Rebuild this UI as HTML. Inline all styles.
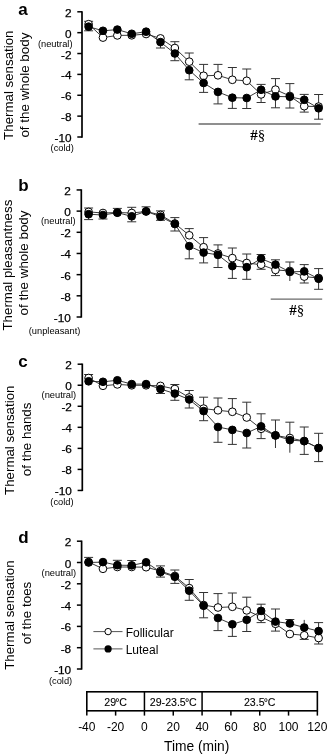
<!DOCTYPE html>
<html><head><meta charset="utf-8"><style>
html,body{margin:0;padding:0;background:#fff;}
svg{display:block;filter:grayscale(1);}
.tk{stroke:#000;stroke-width:0.25px;}
.bl{stroke:#000;stroke-width:0.1px;}
</style></head><body>
<svg width="332" height="754" viewBox="0 0 332 754">
<rect width="332" height="754" fill="#fff"/>
<text x="18.2" y="15" font-family='"Liberation Sans", sans-serif' font-weight="bold" font-size="17">a</text>
<text transform="translate(13.4,85.2) rotate(-90)" text-anchor="middle" font-family='"Liberation Sans", sans-serif' font-size="13.3">Thermal sensation</text>
<text transform="translate(28.5,85.1) rotate(-90)" text-anchor="middle" font-family='"Liberation Sans", sans-serif' font-size="13.4">of the whole body</text>
<line x1="82.0" y1="11.15" x2="82.0" y2="137.65" stroke="#000" stroke-width="1.7"/>
<line x1="77.3" y1="11.8" x2="82.0" y2="11.8" stroke="#000" stroke-width="1.5"/>
<text class="tk" x="71.6" y="16.8" text-anchor="end" font-family='"Liberation Sans", sans-serif' font-size="11.8">2</text>
<line x1="77.3" y1="32.67" x2="82.0" y2="32.67" stroke="#000" stroke-width="1.5"/>
<text class="tk" x="71.6" y="37.67" text-anchor="end" font-family='"Liberation Sans", sans-serif' font-size="11.8">0</text>
<line x1="77.3" y1="53.53" x2="82.0" y2="53.53" stroke="#000" stroke-width="1.5"/>
<text class="tk" x="71.6" y="58.53" text-anchor="end" font-family='"Liberation Sans", sans-serif' font-size="11.8">-2</text>
<line x1="77.3" y1="74.4" x2="82.0" y2="74.4" stroke="#000" stroke-width="1.5"/>
<text class="tk" x="71.6" y="79.4" text-anchor="end" font-family='"Liberation Sans", sans-serif' font-size="11.8">-4</text>
<line x1="77.3" y1="95.27" x2="82.0" y2="95.27" stroke="#000" stroke-width="1.5"/>
<text class="tk" x="71.6" y="100.27" text-anchor="end" font-family='"Liberation Sans", sans-serif' font-size="11.8">-6</text>
<line x1="77.3" y1="116.13" x2="82.0" y2="116.13" stroke="#000" stroke-width="1.5"/>
<text class="tk" x="71.6" y="121.13" text-anchor="end" font-family='"Liberation Sans", sans-serif' font-size="11.8">-8</text>
<line x1="77.3" y1="137" x2="82.0" y2="137" stroke="#000" stroke-width="1.5"/>
<text class="tk" x="71.6" y="142" text-anchor="end" font-family='"Liberation Sans", sans-serif' font-size="11.8">-10</text>
<text x="72.5" y="47" text-anchor="end" font-family='"Liberation Sans", sans-serif' font-size="9.3">(neutral)</text>
<text x="73.8" y="151.4" text-anchor="end" font-family='"Liberation Sans", sans-serif' font-size="9.3">(cold)</text>
<polyline points="88.6,24.2 102.97,37.6 117.35,35.4 131.72,35.3 146.1,34 160.47,38.4 174.85,48 189.22,61.7 203.6,75.8 217.97,75.3 232.35,79.8 246.72,80.8 261.1,94.4 275.48,89.6 289.85,96 304.23,106.2 318.6,106.6" fill="none" stroke="#222" stroke-width="0.9"/>
<polyline points="88.6,26.7 102.97,30.8 117.35,29.6 131.72,33.8 146.1,31.7 160.47,42.1 174.85,53.5 189.22,70.2 203.6,83 217.97,91.9 232.35,97.7 246.72,98 261.1,89.8 275.48,96.4 289.85,96.8 304.23,99.8 318.6,108.3" fill="none" stroke="#222" stroke-width="0.9"/>
<line x1="88.6" y1="24.2" x2="88.6" y2="21.3" stroke="#333" stroke-width="1"/>
<line x1="84.1" y1="21.3" x2="93.1" y2="21.3" stroke="#333" stroke-width="1"/>
<line x1="88.6" y1="26.7" x2="88.6" y2="30.8" stroke="#333" stroke-width="1"/>
<line x1="84.1" y1="30.8" x2="93.1" y2="30.8" stroke="#333" stroke-width="1"/>
<line x1="160.47" y1="42.1" x2="160.47" y2="48" stroke="#333" stroke-width="1"/>
<line x1="155.97" y1="48" x2="164.97" y2="48" stroke="#333" stroke-width="1"/>
<line x1="174.85" y1="48" x2="174.85" y2="41.7" stroke="#333" stroke-width="1"/>
<line x1="170.35" y1="41.7" x2="179.35" y2="41.7" stroke="#333" stroke-width="1"/>
<line x1="174.85" y1="53.5" x2="174.85" y2="60.7" stroke="#333" stroke-width="1"/>
<line x1="170.35" y1="60.7" x2="179.35" y2="60.7" stroke="#333" stroke-width="1"/>
<line x1="189.22" y1="61.7" x2="189.22" y2="53" stroke="#333" stroke-width="1"/>
<line x1="184.72" y1="53" x2="193.72" y2="53" stroke="#333" stroke-width="1"/>
<line x1="189.22" y1="70.2" x2="189.22" y2="79.8" stroke="#333" stroke-width="1"/>
<line x1="184.72" y1="79.8" x2="193.72" y2="79.8" stroke="#333" stroke-width="1"/>
<line x1="203.6" y1="75.8" x2="203.6" y2="64.4" stroke="#333" stroke-width="1"/>
<line x1="199.1" y1="64.4" x2="208.1" y2="64.4" stroke="#333" stroke-width="1"/>
<line x1="203.6" y1="83" x2="203.6" y2="92.4" stroke="#333" stroke-width="1"/>
<line x1="199.1" y1="92.4" x2="208.1" y2="92.4" stroke="#333" stroke-width="1"/>
<line x1="217.97" y1="75.3" x2="217.97" y2="64.4" stroke="#333" stroke-width="1"/>
<line x1="213.47" y1="64.4" x2="222.47" y2="64.4" stroke="#333" stroke-width="1"/>
<line x1="217.97" y1="91.9" x2="217.97" y2="103.9" stroke="#333" stroke-width="1"/>
<line x1="213.47" y1="103.9" x2="222.47" y2="103.9" stroke="#333" stroke-width="1"/>
<line x1="232.35" y1="79.8" x2="232.35" y2="67.5" stroke="#333" stroke-width="1"/>
<line x1="227.85" y1="67.5" x2="236.85" y2="67.5" stroke="#333" stroke-width="1"/>
<line x1="232.35" y1="97.7" x2="232.35" y2="108.4" stroke="#333" stroke-width="1"/>
<line x1="227.85" y1="108.4" x2="236.85" y2="108.4" stroke="#333" stroke-width="1"/>
<line x1="246.72" y1="80.8" x2="246.72" y2="69" stroke="#333" stroke-width="1"/>
<line x1="242.22" y1="69" x2="251.22" y2="69" stroke="#333" stroke-width="1"/>
<line x1="246.72" y1="98" x2="246.72" y2="108.5" stroke="#333" stroke-width="1"/>
<line x1="242.22" y1="108.5" x2="251.22" y2="108.5" stroke="#333" stroke-width="1"/>
<line x1="261.1" y1="89.8" x2="261.1" y2="84.4" stroke="#333" stroke-width="1"/>
<line x1="256.6" y1="84.4" x2="265.6" y2="84.4" stroke="#333" stroke-width="1"/>
<line x1="261.1" y1="94.4" x2="261.1" y2="102.5" stroke="#333" stroke-width="1"/>
<line x1="256.6" y1="102.5" x2="265.6" y2="102.5" stroke="#333" stroke-width="1"/>
<line x1="275.48" y1="89.6" x2="275.48" y2="78.6" stroke="#333" stroke-width="1"/>
<line x1="270.98" y1="78.6" x2="279.98" y2="78.6" stroke="#333" stroke-width="1"/>
<line x1="275.48" y1="96.4" x2="275.48" y2="107.8" stroke="#333" stroke-width="1"/>
<line x1="270.98" y1="107.8" x2="279.98" y2="107.8" stroke="#333" stroke-width="1"/>
<line x1="289.85" y1="96" x2="289.85" y2="83.6" stroke="#333" stroke-width="1"/>
<line x1="285.35" y1="83.6" x2="294.35" y2="83.6" stroke="#333" stroke-width="1"/>
<line x1="289.85" y1="96.8" x2="289.85" y2="108" stroke="#333" stroke-width="1"/>
<line x1="285.35" y1="108" x2="294.35" y2="108" stroke="#333" stroke-width="1"/>
<line x1="304.23" y1="99.8" x2="304.23" y2="94.4" stroke="#333" stroke-width="1"/>
<line x1="299.73" y1="94.4" x2="308.73" y2="94.4" stroke="#333" stroke-width="1"/>
<line x1="304.23" y1="106.2" x2="304.23" y2="112.1" stroke="#333" stroke-width="1"/>
<line x1="299.73" y1="112.1" x2="308.73" y2="112.1" stroke="#333" stroke-width="1"/>
<line x1="318.6" y1="106.6" x2="318.6" y2="94.5" stroke="#333" stroke-width="1"/>
<line x1="314.1" y1="94.5" x2="323.1" y2="94.5" stroke="#333" stroke-width="1"/>
<line x1="318.6" y1="108.3" x2="318.6" y2="119.2" stroke="#333" stroke-width="1"/>
<line x1="314.1" y1="119.2" x2="323.1" y2="119.2" stroke="#333" stroke-width="1"/>
<circle cx="88.6" cy="24.2" r="3.85" fill="#fff" stroke="#000" stroke-width="1"/>
<circle cx="102.97" cy="37.6" r="3.85" fill="#fff" stroke="#000" stroke-width="1"/>
<circle cx="117.35" cy="35.4" r="3.85" fill="#fff" stroke="#000" stroke-width="1"/>
<circle cx="131.72" cy="35.3" r="3.85" fill="#fff" stroke="#000" stroke-width="1"/>
<circle cx="146.1" cy="34" r="3.85" fill="#fff" stroke="#000" stroke-width="1"/>
<circle cx="160.47" cy="38.4" r="3.85" fill="#fff" stroke="#000" stroke-width="1"/>
<circle cx="174.85" cy="48" r="3.85" fill="#fff" stroke="#000" stroke-width="1"/>
<circle cx="189.22" cy="61.7" r="3.85" fill="#fff" stroke="#000" stroke-width="1"/>
<circle cx="203.6" cy="75.8" r="3.85" fill="#fff" stroke="#000" stroke-width="1"/>
<circle cx="217.97" cy="75.3" r="3.85" fill="#fff" stroke="#000" stroke-width="1"/>
<circle cx="232.35" cy="79.8" r="3.85" fill="#fff" stroke="#000" stroke-width="1"/>
<circle cx="246.72" cy="80.8" r="3.85" fill="#fff" stroke="#000" stroke-width="1"/>
<circle cx="261.1" cy="94.4" r="3.85" fill="#fff" stroke="#000" stroke-width="1"/>
<circle cx="275.48" cy="89.6" r="3.85" fill="#fff" stroke="#000" stroke-width="1"/>
<circle cx="289.85" cy="96" r="3.85" fill="#fff" stroke="#000" stroke-width="1"/>
<circle cx="304.23" cy="106.2" r="3.85" fill="#fff" stroke="#000" stroke-width="1"/>
<circle cx="318.6" cy="106.6" r="3.85" fill="#fff" stroke="#000" stroke-width="1"/>
<circle cx="88.6" cy="26.7" r="3.85" fill="#000" stroke="#000" stroke-width="1"/>
<circle cx="102.97" cy="30.8" r="3.85" fill="#000" stroke="#000" stroke-width="1"/>
<circle cx="117.35" cy="29.6" r="3.85" fill="#000" stroke="#000" stroke-width="1"/>
<circle cx="131.72" cy="33.8" r="3.85" fill="#000" stroke="#000" stroke-width="1"/>
<circle cx="146.1" cy="31.7" r="3.85" fill="#000" stroke="#000" stroke-width="1"/>
<circle cx="160.47" cy="42.1" r="3.85" fill="#000" stroke="#000" stroke-width="1"/>
<circle cx="174.85" cy="53.5" r="3.85" fill="#000" stroke="#000" stroke-width="1"/>
<circle cx="189.22" cy="70.2" r="3.85" fill="#000" stroke="#000" stroke-width="1"/>
<circle cx="203.6" cy="83" r="3.85" fill="#000" stroke="#000" stroke-width="1"/>
<circle cx="217.97" cy="91.9" r="3.85" fill="#000" stroke="#000" stroke-width="1"/>
<circle cx="232.35" cy="97.7" r="3.85" fill="#000" stroke="#000" stroke-width="1"/>
<circle cx="246.72" cy="98" r="3.85" fill="#000" stroke="#000" stroke-width="1"/>
<circle cx="261.1" cy="89.8" r="3.85" fill="#000" stroke="#000" stroke-width="1"/>
<circle cx="275.48" cy="96.4" r="3.85" fill="#000" stroke="#000" stroke-width="1"/>
<circle cx="289.85" cy="96.8" r="3.85" fill="#000" stroke="#000" stroke-width="1"/>
<circle cx="304.23" cy="99.8" r="3.85" fill="#000" stroke="#000" stroke-width="1"/>
<circle cx="318.6" cy="108.3" r="3.85" fill="#000" stroke="#000" stroke-width="1"/>
<text x="18.2" y="190.8" font-family='"Liberation Sans", sans-serif' font-weight="bold" font-size="17">b</text>
<text transform="translate(12,265.1) rotate(-90)" text-anchor="middle" font-family='"Liberation Sans", sans-serif' font-size="13.3">Thermal pleasantness</text>
<text transform="translate(27.7,263) rotate(-90)" text-anchor="middle" font-family='"Liberation Sans", sans-serif' font-size="13.4">of the whole body</text>
<line x1="81.3" y1="189.3" x2="81.3" y2="317.65" stroke="#000" stroke-width="1.7"/>
<line x1="76.6" y1="189.95" x2="81.3" y2="189.95" stroke="#000" stroke-width="1.5"/>
<text class="tk" x="70.9" y="194.95" text-anchor="end" font-family='"Liberation Sans", sans-serif' font-size="11.8">2</text>
<line x1="76.6" y1="211.12" x2="81.3" y2="211.12" stroke="#000" stroke-width="1.5"/>
<text class="tk" x="70.9" y="216.12" text-anchor="end" font-family='"Liberation Sans", sans-serif' font-size="11.8">0</text>
<line x1="76.6" y1="232.3" x2="81.3" y2="232.3" stroke="#000" stroke-width="1.5"/>
<text class="tk" x="70.9" y="237.3" text-anchor="end" font-family='"Liberation Sans", sans-serif' font-size="11.8">-2</text>
<line x1="76.6" y1="253.47" x2="81.3" y2="253.47" stroke="#000" stroke-width="1.5"/>
<text class="tk" x="70.9" y="258.48" text-anchor="end" font-family='"Liberation Sans", sans-serif' font-size="11.8">-4</text>
<line x1="76.6" y1="274.65" x2="81.3" y2="274.65" stroke="#000" stroke-width="1.5"/>
<text class="tk" x="70.9" y="279.65" text-anchor="end" font-family='"Liberation Sans", sans-serif' font-size="11.8">-6</text>
<line x1="76.6" y1="295.82" x2="81.3" y2="295.82" stroke="#000" stroke-width="1.5"/>
<text class="tk" x="70.9" y="300.82" text-anchor="end" font-family='"Liberation Sans", sans-serif' font-size="11.8">-8</text>
<line x1="76.6" y1="317" x2="81.3" y2="317" stroke="#000" stroke-width="1.5"/>
<text class="tk" x="70.9" y="322" text-anchor="end" font-family='"Liberation Sans", sans-serif' font-size="11.8">-10</text>
<text x="75.6" y="224.05" text-anchor="end" font-family='"Liberation Sans", sans-serif' font-size="9.3">(neutral)</text>
<text x="80.4" y="333.7" text-anchor="end" font-family='"Liberation Sans", sans-serif' font-size="9.3">(unpleasant)</text>
<polyline points="88.6,211.9 102.97,213 117.35,212.5 131.72,213 146.1,211.5 160.47,214.9 174.85,223.5 189.22,235.3 203.6,247.2 217.97,253.5 232.35,258.1 246.72,263 261.1,264.7 275.48,269.9 289.85,271 304.23,276.6 318.6,278" fill="none" stroke="#222" stroke-width="0.9"/>
<polyline points="88.6,214.2 102.97,215 117.35,212.7 131.72,216.3 146.1,211.3 160.47,216.7 174.85,224 189.22,246.1 203.6,252.6 217.97,254.9 232.35,266.1 246.72,267.2 261.1,258.6 275.48,264.6 289.85,271.9 304.23,271.4 318.6,278.8" fill="none" stroke="#222" stroke-width="0.9"/>
<line x1="88.6" y1="211.9" x2="88.6" y2="208" stroke="#333" stroke-width="1"/>
<line x1="84.1" y1="208" x2="93.1" y2="208" stroke="#333" stroke-width="1"/>
<line x1="88.6" y1="214.2" x2="88.6" y2="219.6" stroke="#333" stroke-width="1"/>
<line x1="84.1" y1="219.6" x2="93.1" y2="219.6" stroke="#333" stroke-width="1"/>
<line x1="102.97" y1="215" x2="102.97" y2="219" stroke="#333" stroke-width="1"/>
<line x1="98.47" y1="219" x2="107.47" y2="219" stroke="#333" stroke-width="1"/>
<line x1="117.35" y1="212.5" x2="117.35" y2="208.4" stroke="#333" stroke-width="1"/>
<line x1="112.85" y1="208.4" x2="121.85" y2="208.4" stroke="#333" stroke-width="1"/>
<line x1="131.72" y1="213" x2="131.72" y2="207.3" stroke="#333" stroke-width="1"/>
<line x1="127.22" y1="207.3" x2="136.22" y2="207.3" stroke="#333" stroke-width="1"/>
<line x1="131.72" y1="216.3" x2="131.72" y2="221.8" stroke="#333" stroke-width="1"/>
<line x1="127.22" y1="221.8" x2="136.22" y2="221.8" stroke="#333" stroke-width="1"/>
<line x1="146.1" y1="211.3" x2="146.1" y2="206.8" stroke="#333" stroke-width="1"/>
<line x1="141.6" y1="206.8" x2="150.6" y2="206.8" stroke="#333" stroke-width="1"/>
<line x1="160.47" y1="214.9" x2="160.47" y2="210.9" stroke="#333" stroke-width="1"/>
<line x1="155.97" y1="210.9" x2="164.97" y2="210.9" stroke="#333" stroke-width="1"/>
<line x1="160.47" y1="216.7" x2="160.47" y2="220.3" stroke="#333" stroke-width="1"/>
<line x1="155.97" y1="220.3" x2="164.97" y2="220.3" stroke="#333" stroke-width="1"/>
<line x1="174.85" y1="223.5" x2="174.85" y2="217.6" stroke="#333" stroke-width="1"/>
<line x1="170.35" y1="217.6" x2="179.35" y2="217.6" stroke="#333" stroke-width="1"/>
<line x1="174.85" y1="224" x2="174.85" y2="231" stroke="#333" stroke-width="1"/>
<line x1="170.35" y1="231" x2="179.35" y2="231" stroke="#333" stroke-width="1"/>
<line x1="189.22" y1="235.3" x2="189.22" y2="228.6" stroke="#333" stroke-width="1"/>
<line x1="184.72" y1="228.6" x2="193.72" y2="228.6" stroke="#333" stroke-width="1"/>
<line x1="189.22" y1="246.1" x2="189.22" y2="258.8" stroke="#333" stroke-width="1"/>
<line x1="184.72" y1="258.8" x2="193.72" y2="258.8" stroke="#333" stroke-width="1"/>
<line x1="203.6" y1="247.2" x2="203.6" y2="237.6" stroke="#333" stroke-width="1"/>
<line x1="199.1" y1="237.6" x2="208.1" y2="237.6" stroke="#333" stroke-width="1"/>
<line x1="203.6" y1="252.6" x2="203.6" y2="262.9" stroke="#333" stroke-width="1"/>
<line x1="199.1" y1="262.9" x2="208.1" y2="262.9" stroke="#333" stroke-width="1"/>
<line x1="217.97" y1="253.5" x2="217.97" y2="244.9" stroke="#333" stroke-width="1"/>
<line x1="213.47" y1="244.9" x2="222.47" y2="244.9" stroke="#333" stroke-width="1"/>
<line x1="217.97" y1="254.9" x2="217.97" y2="267.5" stroke="#333" stroke-width="1"/>
<line x1="213.47" y1="267.5" x2="222.47" y2="267.5" stroke="#333" stroke-width="1"/>
<line x1="232.35" y1="258.1" x2="232.35" y2="248" stroke="#333" stroke-width="1"/>
<line x1="227.85" y1="248" x2="236.85" y2="248" stroke="#333" stroke-width="1"/>
<line x1="232.35" y1="266.1" x2="232.35" y2="278.4" stroke="#333" stroke-width="1"/>
<line x1="227.85" y1="278.4" x2="236.85" y2="278.4" stroke="#333" stroke-width="1"/>
<line x1="246.72" y1="263" x2="246.72" y2="254" stroke="#333" stroke-width="1"/>
<line x1="242.22" y1="254" x2="251.22" y2="254" stroke="#333" stroke-width="1"/>
<line x1="246.72" y1="267.2" x2="246.72" y2="279.3" stroke="#333" stroke-width="1"/>
<line x1="242.22" y1="279.3" x2="251.22" y2="279.3" stroke="#333" stroke-width="1"/>
<line x1="261.1" y1="258.6" x2="261.1" y2="254.5" stroke="#333" stroke-width="1"/>
<line x1="256.6" y1="254.5" x2="265.6" y2="254.5" stroke="#333" stroke-width="1"/>
<line x1="261.1" y1="264.7" x2="261.1" y2="269.3" stroke="#333" stroke-width="1"/>
<line x1="256.6" y1="269.3" x2="265.6" y2="269.3" stroke="#333" stroke-width="1"/>
<line x1="275.48" y1="264.6" x2="275.48" y2="259.8" stroke="#333" stroke-width="1"/>
<line x1="270.98" y1="259.8" x2="279.98" y2="259.8" stroke="#333" stroke-width="1"/>
<line x1="275.48" y1="269.9" x2="275.48" y2="275.6" stroke="#333" stroke-width="1"/>
<line x1="270.98" y1="275.6" x2="279.98" y2="275.6" stroke="#333" stroke-width="1"/>
<line x1="289.85" y1="271" x2="289.85" y2="262" stroke="#333" stroke-width="1"/>
<line x1="285.35" y1="262" x2="294.35" y2="262" stroke="#333" stroke-width="1"/>
<line x1="289.85" y1="271.9" x2="289.85" y2="281" stroke="#333" stroke-width="1"/>
<line x1="304.23" y1="271.4" x2="304.23" y2="264.6" stroke="#333" stroke-width="1"/>
<line x1="299.73" y1="264.6" x2="308.73" y2="264.6" stroke="#333" stroke-width="1"/>
<line x1="304.23" y1="276.6" x2="304.23" y2="283" stroke="#333" stroke-width="1"/>
<line x1="299.73" y1="283" x2="308.73" y2="283" stroke="#333" stroke-width="1"/>
<line x1="318.6" y1="278" x2="318.6" y2="268.6" stroke="#333" stroke-width="1"/>
<line x1="314.1" y1="268.6" x2="323.1" y2="268.6" stroke="#333" stroke-width="1"/>
<line x1="318.6" y1="278.8" x2="318.6" y2="289.3" stroke="#333" stroke-width="1"/>
<line x1="314.1" y1="289.3" x2="323.1" y2="289.3" stroke="#333" stroke-width="1"/>
<circle cx="88.6" cy="211.9" r="3.85" fill="#fff" stroke="#000" stroke-width="1"/>
<circle cx="102.97" cy="213" r="3.85" fill="#fff" stroke="#000" stroke-width="1"/>
<circle cx="117.35" cy="212.5" r="3.85" fill="#fff" stroke="#000" stroke-width="1"/>
<circle cx="131.72" cy="213" r="3.85" fill="#fff" stroke="#000" stroke-width="1"/>
<circle cx="146.1" cy="211.5" r="3.85" fill="#fff" stroke="#000" stroke-width="1"/>
<circle cx="160.47" cy="214.9" r="3.85" fill="#fff" stroke="#000" stroke-width="1"/>
<circle cx="174.85" cy="223.5" r="3.85" fill="#fff" stroke="#000" stroke-width="1"/>
<circle cx="189.22" cy="235.3" r="3.85" fill="#fff" stroke="#000" stroke-width="1"/>
<circle cx="203.6" cy="247.2" r="3.85" fill="#fff" stroke="#000" stroke-width="1"/>
<circle cx="217.97" cy="253.5" r="3.85" fill="#fff" stroke="#000" stroke-width="1"/>
<circle cx="232.35" cy="258.1" r="3.85" fill="#fff" stroke="#000" stroke-width="1"/>
<circle cx="246.72" cy="263" r="3.85" fill="#fff" stroke="#000" stroke-width="1"/>
<circle cx="261.1" cy="264.7" r="3.85" fill="#fff" stroke="#000" stroke-width="1"/>
<circle cx="275.48" cy="269.9" r="3.85" fill="#fff" stroke="#000" stroke-width="1"/>
<circle cx="289.85" cy="271" r="3.85" fill="#fff" stroke="#000" stroke-width="1"/>
<circle cx="304.23" cy="276.6" r="3.85" fill="#fff" stroke="#000" stroke-width="1"/>
<circle cx="318.6" cy="278" r="3.85" fill="#fff" stroke="#000" stroke-width="1"/>
<circle cx="88.6" cy="214.2" r="3.85" fill="#000" stroke="#000" stroke-width="1"/>
<circle cx="102.97" cy="215" r="3.85" fill="#000" stroke="#000" stroke-width="1"/>
<circle cx="117.35" cy="212.7" r="3.85" fill="#000" stroke="#000" stroke-width="1"/>
<circle cx="131.72" cy="216.3" r="3.85" fill="#000" stroke="#000" stroke-width="1"/>
<circle cx="146.1" cy="211.3" r="3.85" fill="#000" stroke="#000" stroke-width="1"/>
<circle cx="160.47" cy="216.7" r="3.85" fill="#000" stroke="#000" stroke-width="1"/>
<circle cx="174.85" cy="224" r="3.85" fill="#000" stroke="#000" stroke-width="1"/>
<circle cx="189.22" cy="246.1" r="3.85" fill="#000" stroke="#000" stroke-width="1"/>
<circle cx="203.6" cy="252.6" r="3.85" fill="#000" stroke="#000" stroke-width="1"/>
<circle cx="217.97" cy="254.9" r="3.85" fill="#000" stroke="#000" stroke-width="1"/>
<circle cx="232.35" cy="266.1" r="3.85" fill="#000" stroke="#000" stroke-width="1"/>
<circle cx="246.72" cy="267.2" r="3.85" fill="#000" stroke="#000" stroke-width="1"/>
<circle cx="261.1" cy="258.6" r="3.85" fill="#000" stroke="#000" stroke-width="1"/>
<circle cx="275.48" cy="264.6" r="3.85" fill="#000" stroke="#000" stroke-width="1"/>
<circle cx="289.85" cy="271.9" r="3.85" fill="#000" stroke="#000" stroke-width="1"/>
<circle cx="304.23" cy="271.4" r="3.85" fill="#000" stroke="#000" stroke-width="1"/>
<circle cx="318.6" cy="278.8" r="3.85" fill="#000" stroke="#000" stroke-width="1"/>
<text x="18.2" y="367" font-family='"Liberation Sans", sans-serif' font-weight="bold" font-size="17">c</text>
<text transform="translate(13.9,440.25) rotate(-90)" text-anchor="middle" font-family='"Liberation Sans", sans-serif' font-size="13.3">Thermal sensation</text>
<text transform="translate(30.8,439.35) rotate(-90)" text-anchor="middle" font-family='"Liberation Sans", sans-serif' font-size="13.4">of the hands</text>
<line x1="82.3" y1="363.55" x2="82.3" y2="491.1" stroke="#000" stroke-width="1.7"/>
<line x1="77.6" y1="364.2" x2="82.3" y2="364.2" stroke="#000" stroke-width="1.5"/>
<text class="tk" x="71.9" y="369.2" text-anchor="end" font-family='"Liberation Sans", sans-serif' font-size="11.8">2</text>
<line x1="77.6" y1="385.24" x2="82.3" y2="385.24" stroke="#000" stroke-width="1.5"/>
<text class="tk" x="71.9" y="390.24" text-anchor="end" font-family='"Liberation Sans", sans-serif' font-size="11.8">0</text>
<line x1="77.6" y1="406.28" x2="82.3" y2="406.28" stroke="#000" stroke-width="1.5"/>
<text class="tk" x="71.9" y="411.28" text-anchor="end" font-family='"Liberation Sans", sans-serif' font-size="11.8">-2</text>
<line x1="77.6" y1="427.32" x2="82.3" y2="427.32" stroke="#000" stroke-width="1.5"/>
<text class="tk" x="71.9" y="432.32" text-anchor="end" font-family='"Liberation Sans", sans-serif' font-size="11.8">-4</text>
<line x1="77.6" y1="448.37" x2="82.3" y2="448.37" stroke="#000" stroke-width="1.5"/>
<text class="tk" x="71.9" y="453.37" text-anchor="end" font-family='"Liberation Sans", sans-serif' font-size="11.8">-6</text>
<line x1="77.6" y1="469.41" x2="82.3" y2="469.41" stroke="#000" stroke-width="1.5"/>
<text class="tk" x="71.9" y="474.41" text-anchor="end" font-family='"Liberation Sans", sans-serif' font-size="11.8">-8</text>
<line x1="77.6" y1="490.45" x2="82.3" y2="490.45" stroke="#000" stroke-width="1.5"/>
<text class="tk" x="71.9" y="495.45" text-anchor="end" font-family='"Liberation Sans", sans-serif' font-size="11.8">-10</text>
<text x="76.2" y="398" text-anchor="end" font-family='"Liberation Sans", sans-serif' font-size="9.3">(neutral)</text>
<text x="73.6" y="505.1" text-anchor="end" font-family='"Liberation Sans", sans-serif' font-size="9.3">(cold)</text>
<polyline points="88.6,378 102.97,385.8 117.35,384.4 131.72,385.3 146.1,385.3 160.47,385.9 174.85,389 189.22,397.5 203.6,408.6 217.97,410.3 232.35,411.8 246.72,417.5 261.1,428.8 275.48,435.4 289.85,438 304.23,441.1 318.6,448" fill="none" stroke="#222" stroke-width="0.9"/>
<polyline points="88.6,381.3 102.97,381.8 117.35,380.3 131.72,384.1 146.1,384.1 160.47,389 174.85,393.6 189.22,399.5 203.6,411.1 217.97,427 232.35,429.9 246.72,433 261.1,426.4 275.48,435.4 289.85,440.1 304.23,441.1 318.6,448.1" fill="none" stroke="#222" stroke-width="0.9"/>
<line x1="88.6" y1="378" x2="88.6" y2="374.5" stroke="#333" stroke-width="1"/>
<line x1="84.1" y1="374.5" x2="93.1" y2="374.5" stroke="#333" stroke-width="1"/>
<line x1="160.47" y1="389" x2="160.47" y2="393.5" stroke="#333" stroke-width="1"/>
<line x1="155.97" y1="393.5" x2="164.97" y2="393.5" stroke="#333" stroke-width="1"/>
<line x1="174.85" y1="389" x2="174.85" y2="384.5" stroke="#333" stroke-width="1"/>
<line x1="170.35" y1="384.5" x2="179.35" y2="384.5" stroke="#333" stroke-width="1"/>
<line x1="174.85" y1="393.6" x2="174.85" y2="400.3" stroke="#333" stroke-width="1"/>
<line x1="170.35" y1="400.3" x2="179.35" y2="400.3" stroke="#333" stroke-width="1"/>
<line x1="189.22" y1="397.5" x2="189.22" y2="390.5" stroke="#333" stroke-width="1"/>
<line x1="184.72" y1="390.5" x2="193.72" y2="390.5" stroke="#333" stroke-width="1"/>
<line x1="189.22" y1="399.5" x2="189.22" y2="408" stroke="#333" stroke-width="1"/>
<line x1="184.72" y1="408" x2="193.72" y2="408" stroke="#333" stroke-width="1"/>
<line x1="203.6" y1="408.6" x2="203.6" y2="397.2" stroke="#333" stroke-width="1"/>
<line x1="199.1" y1="397.2" x2="208.1" y2="397.2" stroke="#333" stroke-width="1"/>
<line x1="203.6" y1="411.1" x2="203.6" y2="420.7" stroke="#333" stroke-width="1"/>
<line x1="199.1" y1="420.7" x2="208.1" y2="420.7" stroke="#333" stroke-width="1"/>
<line x1="217.97" y1="410.3" x2="217.97" y2="398" stroke="#333" stroke-width="1"/>
<line x1="213.47" y1="398" x2="222.47" y2="398" stroke="#333" stroke-width="1"/>
<line x1="217.97" y1="427" x2="217.97" y2="442.3" stroke="#333" stroke-width="1"/>
<line x1="213.47" y1="442.3" x2="222.47" y2="442.3" stroke="#333" stroke-width="1"/>
<line x1="232.35" y1="411.8" x2="232.35" y2="398.6" stroke="#333" stroke-width="1"/>
<line x1="227.85" y1="398.6" x2="236.85" y2="398.6" stroke="#333" stroke-width="1"/>
<line x1="232.35" y1="429.9" x2="232.35" y2="444.4" stroke="#333" stroke-width="1"/>
<line x1="227.85" y1="444.4" x2="236.85" y2="444.4" stroke="#333" stroke-width="1"/>
<line x1="246.72" y1="417.5" x2="246.72" y2="402.2" stroke="#333" stroke-width="1"/>
<line x1="242.22" y1="402.2" x2="251.22" y2="402.2" stroke="#333" stroke-width="1"/>
<line x1="246.72" y1="433" x2="246.72" y2="448" stroke="#333" stroke-width="1"/>
<line x1="242.22" y1="448" x2="251.22" y2="448" stroke="#333" stroke-width="1"/>
<line x1="261.1" y1="426.4" x2="261.1" y2="413.8" stroke="#333" stroke-width="1"/>
<line x1="256.6" y1="413.8" x2="265.6" y2="413.8" stroke="#333" stroke-width="1"/>
<line x1="261.1" y1="428.8" x2="261.1" y2="438.6" stroke="#333" stroke-width="1"/>
<line x1="256.6" y1="438.6" x2="265.6" y2="438.6" stroke="#333" stroke-width="1"/>
<line x1="275.48" y1="435.4" x2="275.48" y2="420" stroke="#333" stroke-width="1"/>
<line x1="270.98" y1="420" x2="279.98" y2="420" stroke="#333" stroke-width="1"/>
<line x1="275.48" y1="435.4" x2="275.48" y2="448" stroke="#333" stroke-width="1"/>
<line x1="289.85" y1="438" x2="289.85" y2="422.2" stroke="#333" stroke-width="1"/>
<line x1="285.35" y1="422.2" x2="294.35" y2="422.2" stroke="#333" stroke-width="1"/>
<line x1="289.85" y1="440.1" x2="289.85" y2="452.7" stroke="#333" stroke-width="1"/>
<line x1="304.23" y1="441.1" x2="304.23" y2="427" stroke="#333" stroke-width="1"/>
<line x1="299.73" y1="427" x2="308.73" y2="427" stroke="#333" stroke-width="1"/>
<line x1="304.23" y1="441.1" x2="304.23" y2="454.4" stroke="#333" stroke-width="1"/>
<line x1="299.73" y1="454.4" x2="308.73" y2="454.4" stroke="#333" stroke-width="1"/>
<line x1="318.6" y1="448" x2="318.6" y2="433.3" stroke="#333" stroke-width="1"/>
<line x1="314.1" y1="433.3" x2="323.1" y2="433.3" stroke="#333" stroke-width="1"/>
<line x1="318.6" y1="448.1" x2="318.6" y2="461.6" stroke="#333" stroke-width="1"/>
<line x1="314.1" y1="461.6" x2="323.1" y2="461.6" stroke="#333" stroke-width="1"/>
<circle cx="88.6" cy="378" r="3.85" fill="#fff" stroke="#000" stroke-width="1"/>
<circle cx="102.97" cy="385.8" r="3.85" fill="#fff" stroke="#000" stroke-width="1"/>
<circle cx="117.35" cy="384.4" r="3.85" fill="#fff" stroke="#000" stroke-width="1"/>
<circle cx="131.72" cy="385.3" r="3.85" fill="#fff" stroke="#000" stroke-width="1"/>
<circle cx="146.1" cy="385.3" r="3.85" fill="#fff" stroke="#000" stroke-width="1"/>
<circle cx="160.47" cy="385.9" r="3.85" fill="#fff" stroke="#000" stroke-width="1"/>
<circle cx="174.85" cy="389" r="3.85" fill="#fff" stroke="#000" stroke-width="1"/>
<circle cx="189.22" cy="397.5" r="3.85" fill="#fff" stroke="#000" stroke-width="1"/>
<circle cx="203.6" cy="408.6" r="3.85" fill="#fff" stroke="#000" stroke-width="1"/>
<circle cx="217.97" cy="410.3" r="3.85" fill="#fff" stroke="#000" stroke-width="1"/>
<circle cx="232.35" cy="411.8" r="3.85" fill="#fff" stroke="#000" stroke-width="1"/>
<circle cx="246.72" cy="417.5" r="3.85" fill="#fff" stroke="#000" stroke-width="1"/>
<circle cx="261.1" cy="428.8" r="3.85" fill="#fff" stroke="#000" stroke-width="1"/>
<circle cx="275.48" cy="435.4" r="3.85" fill="#fff" stroke="#000" stroke-width="1"/>
<circle cx="289.85" cy="438" r="3.85" fill="#fff" stroke="#000" stroke-width="1"/>
<circle cx="304.23" cy="441.1" r="3.85" fill="#fff" stroke="#000" stroke-width="1"/>
<circle cx="318.6" cy="448" r="3.85" fill="#fff" stroke="#000" stroke-width="1"/>
<circle cx="88.6" cy="381.3" r="3.85" fill="#000" stroke="#000" stroke-width="1"/>
<circle cx="102.97" cy="381.8" r="3.85" fill="#000" stroke="#000" stroke-width="1"/>
<circle cx="117.35" cy="380.3" r="3.85" fill="#000" stroke="#000" stroke-width="1"/>
<circle cx="131.72" cy="384.1" r="3.85" fill="#000" stroke="#000" stroke-width="1"/>
<circle cx="146.1" cy="384.1" r="3.85" fill="#000" stroke="#000" stroke-width="1"/>
<circle cx="160.47" cy="389" r="3.85" fill="#000" stroke="#000" stroke-width="1"/>
<circle cx="174.85" cy="393.6" r="3.85" fill="#000" stroke="#000" stroke-width="1"/>
<circle cx="189.22" cy="399.5" r="3.85" fill="#000" stroke="#000" stroke-width="1"/>
<circle cx="203.6" cy="411.1" r="3.85" fill="#000" stroke="#000" stroke-width="1"/>
<circle cx="217.97" cy="427" r="3.85" fill="#000" stroke="#000" stroke-width="1"/>
<circle cx="232.35" cy="429.9" r="3.85" fill="#000" stroke="#000" stroke-width="1"/>
<circle cx="246.72" cy="433" r="3.85" fill="#000" stroke="#000" stroke-width="1"/>
<circle cx="261.1" cy="426.4" r="3.85" fill="#000" stroke="#000" stroke-width="1"/>
<circle cx="275.48" cy="435.4" r="3.85" fill="#000" stroke="#000" stroke-width="1"/>
<circle cx="289.85" cy="440.1" r="3.85" fill="#000" stroke="#000" stroke-width="1"/>
<circle cx="304.23" cy="441.1" r="3.85" fill="#000" stroke="#000" stroke-width="1"/>
<circle cx="318.6" cy="448.1" r="3.85" fill="#000" stroke="#000" stroke-width="1"/>
<text x="18.2" y="542.6" font-family='"Liberation Sans", sans-serif' font-weight="bold" font-size="17">d</text>
<text transform="translate(14.1,615.1) rotate(-90)" text-anchor="middle" font-family='"Liberation Sans", sans-serif' font-size="13.3">Thermal sensation</text>
<text transform="translate(30.8,613) rotate(-90)" text-anchor="middle" font-family='"Liberation Sans", sans-serif' font-size="13.4">of the toes</text>
<line x1="81.6" y1="540.55" x2="81.6" y2="669.65" stroke="#000" stroke-width="1.7"/>
<line x1="76.9" y1="541.2" x2="81.6" y2="541.2" stroke="#000" stroke-width="1.5"/>
<text class="tk" x="71.2" y="546.2" text-anchor="end" font-family='"Liberation Sans", sans-serif' font-size="11.8">2</text>
<line x1="76.9" y1="562.5" x2="81.6" y2="562.5" stroke="#000" stroke-width="1.5"/>
<text class="tk" x="71.2" y="567.5" text-anchor="end" font-family='"Liberation Sans", sans-serif' font-size="11.8">0</text>
<line x1="76.9" y1="583.8" x2="81.6" y2="583.8" stroke="#000" stroke-width="1.5"/>
<text class="tk" x="71.2" y="588.8" text-anchor="end" font-family='"Liberation Sans", sans-serif' font-size="11.8">-2</text>
<line x1="76.9" y1="605.1" x2="81.6" y2="605.1" stroke="#000" stroke-width="1.5"/>
<text class="tk" x="71.2" y="610.1" text-anchor="end" font-family='"Liberation Sans", sans-serif' font-size="11.8">-4</text>
<line x1="76.9" y1="626.4" x2="81.6" y2="626.4" stroke="#000" stroke-width="1.5"/>
<text class="tk" x="71.2" y="631.4" text-anchor="end" font-family='"Liberation Sans", sans-serif' font-size="11.8">-6</text>
<line x1="76.9" y1="647.7" x2="81.6" y2="647.7" stroke="#000" stroke-width="1.5"/>
<text class="tk" x="71.2" y="652.7" text-anchor="end" font-family='"Liberation Sans", sans-serif' font-size="11.8">-8</text>
<line x1="76.9" y1="669" x2="81.6" y2="669" stroke="#000" stroke-width="1.5"/>
<text class="tk" x="71.2" y="674" text-anchor="end" font-family='"Liberation Sans", sans-serif' font-size="11.8">-10</text>
<text x="76.2" y="575.85" text-anchor="end" font-family='"Liberation Sans", sans-serif' font-size="9.3">(neutral)</text>
<text x="72.2" y="683.8" text-anchor="end" font-family='"Liberation Sans", sans-serif' font-size="9.3">(cold)</text>
<polyline points="88.6,562 102.97,568.8 117.35,567 131.72,567 146.1,567.2 160.47,571 174.85,576 189.22,588.1 203.6,605 217.97,607.5 232.35,606.8 246.72,610.4 261.1,617 275.48,623.8 289.85,634 304.23,635.3 318.6,638" fill="none" stroke="#222" stroke-width="0.9"/>
<polyline points="88.6,562.5 102.97,562.1 117.35,565.2 131.72,565.4 146.1,562.3 160.47,572.1 174.85,576.8 189.22,590.7 203.6,605.8 217.97,618 232.35,624.3 246.72,619.8 261.1,610.9 275.48,621.6 289.85,623.5 304.23,627.5 318.6,631.1" fill="none" stroke="#222" stroke-width="0.9"/>
<line x1="88.6" y1="562" x2="88.6" y2="557.4" stroke="#333" stroke-width="1"/>
<line x1="84.1" y1="557.4" x2="93.1" y2="557.4" stroke="#333" stroke-width="1"/>
<line x1="117.35" y1="565.2" x2="117.35" y2="560.3" stroke="#333" stroke-width="1"/>
<line x1="112.85" y1="560.3" x2="121.85" y2="560.3" stroke="#333" stroke-width="1"/>
<line x1="131.72" y1="565.4" x2="131.72" y2="560.5" stroke="#333" stroke-width="1"/>
<line x1="127.22" y1="560.5" x2="136.22" y2="560.5" stroke="#333" stroke-width="1"/>
<line x1="160.47" y1="571" x2="160.47" y2="565.9" stroke="#333" stroke-width="1"/>
<line x1="155.97" y1="565.9" x2="164.97" y2="565.9" stroke="#333" stroke-width="1"/>
<line x1="160.47" y1="572.1" x2="160.47" y2="577.1" stroke="#333" stroke-width="1"/>
<line x1="155.97" y1="577.1" x2="164.97" y2="577.1" stroke="#333" stroke-width="1"/>
<line x1="174.85" y1="576" x2="174.85" y2="570" stroke="#333" stroke-width="1"/>
<line x1="170.35" y1="570" x2="179.35" y2="570" stroke="#333" stroke-width="1"/>
<line x1="174.85" y1="576.8" x2="174.85" y2="583.4" stroke="#333" stroke-width="1"/>
<line x1="170.35" y1="583.4" x2="179.35" y2="583.4" stroke="#333" stroke-width="1"/>
<line x1="189.22" y1="588.1" x2="189.22" y2="579.5" stroke="#333" stroke-width="1"/>
<line x1="184.72" y1="579.5" x2="193.72" y2="579.5" stroke="#333" stroke-width="1"/>
<line x1="189.22" y1="590.7" x2="189.22" y2="600.3" stroke="#333" stroke-width="1"/>
<line x1="184.72" y1="600.3" x2="193.72" y2="600.3" stroke="#333" stroke-width="1"/>
<line x1="203.6" y1="605" x2="203.6" y2="592.5" stroke="#333" stroke-width="1"/>
<line x1="199.1" y1="592.5" x2="208.1" y2="592.5" stroke="#333" stroke-width="1"/>
<line x1="203.6" y1="605.8" x2="203.6" y2="617.8" stroke="#333" stroke-width="1"/>
<line x1="199.1" y1="617.8" x2="208.1" y2="617.8" stroke="#333" stroke-width="1"/>
<line x1="217.97" y1="607.5" x2="217.97" y2="593.6" stroke="#333" stroke-width="1"/>
<line x1="213.47" y1="593.6" x2="222.47" y2="593.6" stroke="#333" stroke-width="1"/>
<line x1="217.97" y1="618" x2="217.97" y2="630.6" stroke="#333" stroke-width="1"/>
<line x1="213.47" y1="630.6" x2="222.47" y2="630.6" stroke="#333" stroke-width="1"/>
<line x1="232.35" y1="606.8" x2="232.35" y2="593" stroke="#333" stroke-width="1"/>
<line x1="227.85" y1="593" x2="236.85" y2="593" stroke="#333" stroke-width="1"/>
<line x1="232.35" y1="624.3" x2="232.35" y2="636.4" stroke="#333" stroke-width="1"/>
<line x1="227.85" y1="636.4" x2="236.85" y2="636.4" stroke="#333" stroke-width="1"/>
<line x1="246.72" y1="610.4" x2="246.72" y2="597.2" stroke="#333" stroke-width="1"/>
<line x1="242.22" y1="597.2" x2="251.22" y2="597.2" stroke="#333" stroke-width="1"/>
<line x1="246.72" y1="619.8" x2="246.72" y2="631.5" stroke="#333" stroke-width="1"/>
<line x1="242.22" y1="631.5" x2="251.22" y2="631.5" stroke="#333" stroke-width="1"/>
<line x1="261.1" y1="610.9" x2="261.1" y2="604.2" stroke="#333" stroke-width="1"/>
<line x1="256.6" y1="604.2" x2="265.6" y2="604.2" stroke="#333" stroke-width="1"/>
<line x1="261.1" y1="617" x2="261.1" y2="622.6" stroke="#333" stroke-width="1"/>
<line x1="256.6" y1="622.6" x2="265.6" y2="622.6" stroke="#333" stroke-width="1"/>
<line x1="275.48" y1="621.6" x2="275.48" y2="609" stroke="#333" stroke-width="1"/>
<line x1="270.98" y1="609" x2="279.98" y2="609" stroke="#333" stroke-width="1"/>
<line x1="275.48" y1="623.8" x2="275.48" y2="631.1" stroke="#333" stroke-width="1"/>
<line x1="270.98" y1="631.1" x2="279.98" y2="631.1" stroke="#333" stroke-width="1"/>
<line x1="289.85" y1="623.5" x2="289.85" y2="619.5" stroke="#333" stroke-width="1"/>
<line x1="285.35" y1="619.5" x2="294.35" y2="619.5" stroke="#333" stroke-width="1"/>
<line x1="304.23" y1="627.5" x2="304.23" y2="619.9" stroke="#333" stroke-width="1"/>
<line x1="304.23" y1="635.3" x2="304.23" y2="639.4" stroke="#333" stroke-width="1"/>
<line x1="299.73" y1="639.4" x2="308.73" y2="639.4" stroke="#333" stroke-width="1"/>
<line x1="318.6" y1="631.1" x2="318.6" y2="622.6" stroke="#333" stroke-width="1"/>
<line x1="314.1" y1="622.6" x2="323.1" y2="622.6" stroke="#333" stroke-width="1"/>
<line x1="318.6" y1="638" x2="318.6" y2="644" stroke="#333" stroke-width="1"/>
<line x1="314.1" y1="644" x2="323.1" y2="644" stroke="#333" stroke-width="1"/>
<circle cx="88.6" cy="562" r="3.85" fill="#fff" stroke="#000" stroke-width="1"/>
<circle cx="102.97" cy="568.8" r="3.85" fill="#fff" stroke="#000" stroke-width="1"/>
<circle cx="117.35" cy="567" r="3.85" fill="#fff" stroke="#000" stroke-width="1"/>
<circle cx="131.72" cy="567" r="3.85" fill="#fff" stroke="#000" stroke-width="1"/>
<circle cx="146.1" cy="567.2" r="3.85" fill="#fff" stroke="#000" stroke-width="1"/>
<circle cx="160.47" cy="571" r="3.85" fill="#fff" stroke="#000" stroke-width="1"/>
<circle cx="174.85" cy="576" r="3.85" fill="#fff" stroke="#000" stroke-width="1"/>
<circle cx="189.22" cy="588.1" r="3.85" fill="#fff" stroke="#000" stroke-width="1"/>
<circle cx="203.6" cy="605" r="3.85" fill="#fff" stroke="#000" stroke-width="1"/>
<circle cx="217.97" cy="607.5" r="3.85" fill="#fff" stroke="#000" stroke-width="1"/>
<circle cx="232.35" cy="606.8" r="3.85" fill="#fff" stroke="#000" stroke-width="1"/>
<circle cx="246.72" cy="610.4" r="3.85" fill="#fff" stroke="#000" stroke-width="1"/>
<circle cx="261.1" cy="617" r="3.85" fill="#fff" stroke="#000" stroke-width="1"/>
<circle cx="275.48" cy="623.8" r="3.85" fill="#fff" stroke="#000" stroke-width="1"/>
<circle cx="289.85" cy="634" r="3.85" fill="#fff" stroke="#000" stroke-width="1"/>
<circle cx="304.23" cy="635.3" r="3.85" fill="#fff" stroke="#000" stroke-width="1"/>
<circle cx="318.6" cy="638" r="3.85" fill="#fff" stroke="#000" stroke-width="1"/>
<circle cx="88.6" cy="562.5" r="3.85" fill="#000" stroke="#000" stroke-width="1"/>
<circle cx="102.97" cy="562.1" r="3.85" fill="#000" stroke="#000" stroke-width="1"/>
<circle cx="117.35" cy="565.2" r="3.85" fill="#000" stroke="#000" stroke-width="1"/>
<circle cx="131.72" cy="565.4" r="3.85" fill="#000" stroke="#000" stroke-width="1"/>
<circle cx="146.1" cy="562.3" r="3.85" fill="#000" stroke="#000" stroke-width="1"/>
<circle cx="160.47" cy="572.1" r="3.85" fill="#000" stroke="#000" stroke-width="1"/>
<circle cx="174.85" cy="576.8" r="3.85" fill="#000" stroke="#000" stroke-width="1"/>
<circle cx="189.22" cy="590.7" r="3.85" fill="#000" stroke="#000" stroke-width="1"/>
<circle cx="203.6" cy="605.8" r="3.85" fill="#000" stroke="#000" stroke-width="1"/>
<circle cx="217.97" cy="618" r="3.85" fill="#000" stroke="#000" stroke-width="1"/>
<circle cx="232.35" cy="624.3" r="3.85" fill="#000" stroke="#000" stroke-width="1"/>
<circle cx="246.72" cy="619.8" r="3.85" fill="#000" stroke="#000" stroke-width="1"/>
<circle cx="261.1" cy="610.9" r="3.85" fill="#000" stroke="#000" stroke-width="1"/>
<circle cx="275.48" cy="621.6" r="3.85" fill="#000" stroke="#000" stroke-width="1"/>
<circle cx="289.85" cy="623.5" r="3.85" fill="#000" stroke="#000" stroke-width="1"/>
<circle cx="304.23" cy="627.5" r="3.85" fill="#000" stroke="#000" stroke-width="1"/>
<circle cx="318.6" cy="631.1" r="3.85" fill="#000" stroke="#000" stroke-width="1"/>
<line x1="198.6" y1="124" x2="320.7" y2="124" stroke="#6a6a6a" stroke-width="1.4"/>
<text x="250.2" y="139.9" font-family='"Liberation Serif", serif' font-size="15" font-weight="bold">#<tspan font-weight="normal">§</tspan></text>
<line x1="270.7" y1="299.1" x2="322.2" y2="299.1" stroke="#6a6a6a" stroke-width="1.4"/>
<text x="289.3" y="314.5" font-family='"Liberation Serif", serif' font-size="15" font-weight="bold">#<tspan font-weight="normal">§</tspan></text>
<rect x="86.8" y="691.8" width="230.56" height="19" fill="none" stroke="#000" stroke-width="1.6"/>
<line x1="144.44" y1="691.8" x2="144.44" y2="710.8" stroke="#000" stroke-width="1.5"/>
<line x1="202.08" y1="691.8" x2="202.08" y2="710.8" stroke="#000" stroke-width="1.5"/>
<line x1="86.8" y1="711" x2="86.8" y2="715.6" stroke="#000" stroke-width="1.5"/>
<text x="86.8" y="730.5" text-anchor="middle" font-family='"Liberation Sans", sans-serif' font-size="12">-40</text>
<line x1="115.62" y1="711" x2="115.62" y2="715.6" stroke="#000" stroke-width="1.5"/>
<text x="115.62" y="730.5" text-anchor="middle" font-family='"Liberation Sans", sans-serif' font-size="12">-20</text>
<line x1="144.44" y1="711" x2="144.44" y2="715.6" stroke="#000" stroke-width="1.5"/>
<text x="144.44" y="730.5" text-anchor="middle" font-family='"Liberation Sans", sans-serif' font-size="12">0</text>
<line x1="173.26" y1="711" x2="173.26" y2="715.6" stroke="#000" stroke-width="1.5"/>
<text x="173.26" y="730.5" text-anchor="middle" font-family='"Liberation Sans", sans-serif' font-size="12">20</text>
<line x1="202.08" y1="711" x2="202.08" y2="715.6" stroke="#000" stroke-width="1.5"/>
<text x="202.08" y="730.5" text-anchor="middle" font-family='"Liberation Sans", sans-serif' font-size="12">40</text>
<line x1="230.9" y1="711" x2="230.9" y2="715.6" stroke="#000" stroke-width="1.5"/>
<text x="230.9" y="730.5" text-anchor="middle" font-family='"Liberation Sans", sans-serif' font-size="12">60</text>
<line x1="259.72" y1="711" x2="259.72" y2="715.6" stroke="#000" stroke-width="1.5"/>
<text x="259.72" y="730.5" text-anchor="middle" font-family='"Liberation Sans", sans-serif' font-size="12">80</text>
<line x1="288.54" y1="711" x2="288.54" y2="715.6" stroke="#000" stroke-width="1.5"/>
<text x="288.54" y="730.5" text-anchor="middle" font-family='"Liberation Sans", sans-serif' font-size="12">100</text>
<line x1="317.36" y1="711" x2="317.36" y2="715.6" stroke="#000" stroke-width="1.5"/>
<text x="317.36" y="730.5" text-anchor="middle" font-family='"Liberation Sans", sans-serif' font-size="12">120</text>
<text x="115.62" y="706" class="bl" text-anchor="middle" font-family='"Liberation Sans", sans-serif' font-size="10.6">29<tspan dx="-0.8">°</tspan><tspan dx="-0.2">C</tspan></text>
<text x="173.26" y="706" class="bl" text-anchor="middle" font-family='"Liberation Sans", sans-serif' font-size="10.6">29-23.5<tspan dx="-0.8">°</tspan><tspan dx="-0.2">C</tspan></text>
<text x="259.72" y="706" class="bl" text-anchor="middle" font-family='"Liberation Sans", sans-serif' font-size="10.6">23.5<tspan dx="-0.8">°</tspan><tspan dx="-0.2">C</tspan></text>
<text x="196.7" y="750.8" text-anchor="middle" font-family='"Liberation Sans", sans-serif' font-size="13.8">Time (min)</text>
<line x1="93.4" y1="631.6" x2="122.5" y2="631.6" stroke="#555" stroke-width="1"/>
<circle cx="108.1" cy="631.6" r="3.2" fill="#fff" stroke="#000" stroke-width="1"/>
<text x="125.7" y="636.6" font-family='"Liberation Sans", sans-serif' font-size="12">Follicular</text>
<line x1="93.4" y1="648.9" x2="122.5" y2="648.9" stroke="#555" stroke-width="1"/>
<circle cx="108.1" cy="648.9" r="3.6" fill="#000"/>
<text x="125.7" y="653.9" font-family='"Liberation Sans", sans-serif' font-size="12">Luteal</text>
</svg>
</body></html>
